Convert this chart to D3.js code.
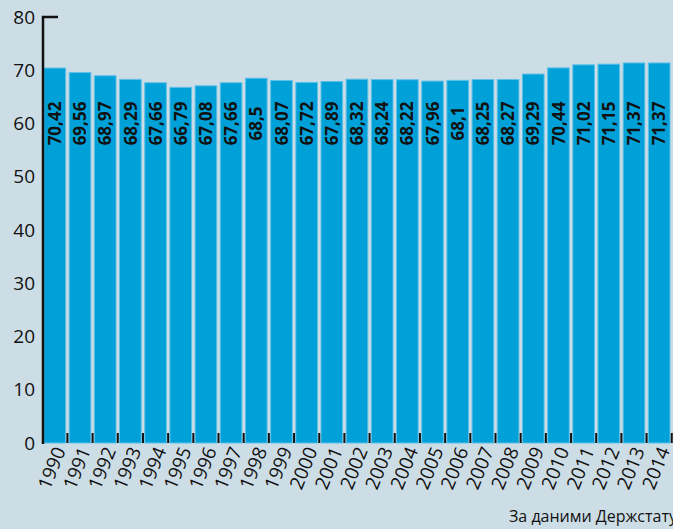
<!DOCTYPE html>
<html>
<head>
<meta charset="utf-8">
<script src="https://cdn.jsdelivr.net/npm/d3@7"></script>
<style>
  html, body { margin: 0; padding: 0; background: #cddde6; }
  svg { display: block; }
</style>
</head>
<body>
<svg id="chart" width="673" height="529"></svg>
<script>
// ─── Data ────────────────────────────────────────────────────────────────────
const years = ['1990', '1991', '1992', '1993', '1994', '1995', '1996', '1997', '1998', '1999',
  '2000', '2001', '2002', '2003', '2004', '2005', '2006', '2007', '2008', '2009',
  '2010', '2011', '2012', '2013', '2014'];
const values = [70.42, 69.56, 68.97, 68.29, 67.66, 66.79, 67.08, 67.66, 68.5, 68.07,
  67.72, 67.89, 68.32, 68.24, 68.22, 67.96, 68.1, 68.25, 68.27, 69.29,
  70.44, 71.02, 71.15, 71.37, 71.37];
const yTicks = [0, 10, 20, 30, 40, 50, 60, 70, 80];
const sourceNote = 'За даними Держстату';

// ─── Layout ──────────────────────────────────────────────────────────────────
const W = 673, H = 529;
const AXIS_X = 43;
const Y_TOP = 17, Y_BOTTOM = 443;
const FONT = '"Open Sans", "DejaVu Sans", sans-serif';

const svg = d3.select('#chart');

svg.append('rect').attr('width', W).attr('height', H).attr('fill', '#cddde6');

const x = d3.scaleBand()
  .domain(years)
  .range([AXIS_X, 671])
  .paddingInner(0.14)
  .paddingOuter(0.04);

const y = d3.scaleLinear().domain([0, 80]).range([Y_BOTTOM, Y_TOP]);

// ── Bars ─────────────────────────────────────────────────────────────────────
svg.append('g')
  .selectAll('rect')
  .data(values)
  .join('rect')
  .attr('x', (d, i) => x(years[i]))
  .attr('y', d => y(d))
  .attr('width', x.bandwidth())
  .attr('height', d => Y_BOTTOM - y(d))
  .attr('fill', '#00a1d9')
  .attr('stroke', '#5fc0e8')
  .attr('stroke-width', 1);

// ── Value labels (vertical, inside bars) ─────────────────────────────────────
svg.append('g')
  .selectAll('text')
  .data(values)
  .join('text')
  .attr('transform', (d, i) => `translate(${x(years[i]) + x.bandwidth() / 2},${y(60)}) rotate(-90)`)
  .attr('dy', '0.36em')
  .attr('text-anchor', 'middle')
  .style('font-family', FONT)
  .style('font-weight', 'bold')
  .style('font-size', '17px')
  .style('fill', '#111')
  .text(d => String(d).replace('.', ','));

// ── Y axis ───────────────────────────────────────────────────────────────────
const yAxis = svg.append('g')
  .attr('transform', `translate(${AXIS_X},0)`)
  .call(d3.axisLeft(y).tickValues(yTicks).tickSize(0).tickPadding(8));
yAxis.select('.domain').remove();
yAxis.selectAll('text')
  .style('font-family', FONT)
  .style('font-size', '19px')
  .style('fill', '#111');

svg.append('path')
  .attr('d', `M${AXIS_X},${Y_BOTTOM + 1}V${Y_TOP}H${AXIS_X + 15}`)
  .attr('fill', 'none')
  .attr('stroke', '#111')
  .attr('stroke-width', 2.5);

// ── X ticks between bars (at band boundaries) ───────────────────────────────
const step = x.step();
svg.append('g')
  .selectAll('line')
  .data(years)
  .join('line')
  .attr('x1', d => x(d) + x.bandwidth() + (step - x.bandwidth()) / 2)
  .attr('x2', d => x(d) + x.bandwidth() + (step - x.bandwidth()) / 2)
  .attr('y1', Y_BOTTOM - 10)
  .attr('y2', Y_BOTTOM)
  .attr('stroke', '#111')
  .attr('stroke-width', 2);

// ── X labels (rotated years) ────────────────────────────────────────────────
svg.append('g')
  .selectAll('text')
  .data(years)
  .join('text')
  .attr('transform', d => `translate(${x(d) + x.bandwidth() / 2 + 5},${Y_BOTTOM + 5}) rotate(-68)`)
  .attr('text-anchor', 'end')
  .attr('dy', '0.35em')
  .style('font-family', FONT)
  .style('font-size', '19px')
  .style('fill', '#111')
  .text(d => d);

// ── Source note ─────────────────────────────────────────────────────────────
svg.append('text')
  .attr('x', 509)
  .attr('y', 522)
  .style('font-family', FONT)
  .style('font-size', '16px')
  .style('fill', '#111')
  .text(sourceNote);
</script>
</body>
</html>
